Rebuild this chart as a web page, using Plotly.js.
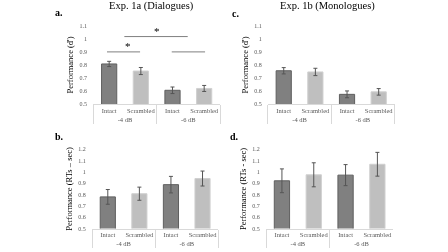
<!DOCTYPE html>
<html><head><meta charset="utf-8">
<script src="https://cdn.plot.ly/plotly-3.0.1.min.js"></script>
<style>html,body{margin:0;padding:0;background:#fff;}#chart{width:448px;height:252px;will-change:transform;}</style>
</head><body><div id="chart"></div>
<script>
// ---- data ----
var groups = ["-4 dB", "-4 dB", "-6 dB", "-6 dB"];
var conditions = ["Intact", "Scrambled", "Intact", "Scrambled"];
// Exp. 1a (Dialogues)
var dprimeDialogues = [0.808, 0.754, 0.607, 0.621];
var dprimeDialoguesErr = [0.020, 0.027, 0.025, 0.023];
var rtDialogues = [0.780, 0.808, 0.888, 0.942];
var rtDialoguesErr = [0.065, 0.058, 0.073, 0.066];
// Exp. 1b (Monologues)
var dprimeMonologues = [0.756, 0.747, 0.576, 0.595];
var dprimeMonologuesErr = [0.024, 0.028, 0.026, 0.025];
var rtMonologues = [0.922, 0.975, 0.972, 1.068];
var rtMonologuesErr = [0.105, 0.106, 0.093, 0.105];
// significance brackets in panel a: [fromFrac, toFrac, level]
var sigLines = [[0.108, 0.369, 0.90], [0.245, 0.745, 1.017], [0.619, 0.882, 0.90]];
var sigStars = [[0.237, 0.945], [0.505, 1.063]];

var intactColor = "#808080", scrambledColor = "#bfbfbf";
var barColors = conditions.map(function(c){ return c === "Intact" ? intactColor : scrambledColor; });
var barLines = conditions.map(function(c){ return c === "Intact" ? "#5f5f5f" : "#d0d0d0"; });
var serif = "Liberation Serif, Times New Roman, serif";

function barTrace(vals, errs, xa, ya) {
  return {
    type: "bar", x: [groups, conditions], y: vals, xaxis: xa, yaxis: ya,
    width: 0.48,
    marker: {color: barColors, line: {color: barLines, width: 1}},
    error_y: {type: "data", array: errs, visible: true, color: "#555555", thickness: 1, width: 2},
    showlegend: false, hoverinfo: "none"
  };
}

var data = [
  barTrace(dprimeDialogues, dprimeDialoguesErr, "x", "y"),
  barTrace(dprimeMonologues, dprimeMonologuesErr, "x2", "y2"),
  barTrace(rtDialogues, rtDialoguesErr, "x3", "y3"),
  barTrace(rtMonologues, rtMonologuesErr, "x4", "y4")
];

function xAxis(domain, anchor) {
  return {
    type: "multicategory", domain: domain, anchor: anchor,
    showline: true, linecolor: "#d9d9d9", linewidth: 1,
    showdividers: true, dividercolor: "#d9d9d9", dividerwidth: 1,
    ticks: "", tickangle: 0, tickfont: {family: serif, size: 6.5, color: "#595959"},
    showgrid: false, zeroline: false, fixedrange: true
  };
}
function yAxis(domain, anchor, range, dtick, title) {
  return {
    domain: domain, anchor: anchor, range: range, dtick: dtick,
    showgrid: false, zeroline: false, showline: false,
    ticks: "outside", ticklen: 4, tickcolor: "rgba(0,0,0,0)",
    tickfont: {family: serif, size: 6, color: "#595959"},
    title: {text: title, font: {family: serif, size: 8.5, color: "#000"}, standoff: 4},
    fixedrange: true
  };
}

var shapes = sigLines.map(function(s){
  return {type: "line", xref: "x domain", yref: "y", x0: s[0], x1: s[1], y0: s[2], y1: s[2],
          line: {color: "#7f7f7f", width: 1}};
});
var annotations = sigStars.map(function(s){
  return {xref: "x domain", yref: "y", x: s[0], y: s[1], text: "*", showarrow: false,
          font: {family: serif, size: 11, color: "#000"}};
});
var panelLabels = [["a.", 0.118, 0.95], ["c.", 0.513, 0.945], ["b.", 0.118, 0.46], ["d.", 0.51, 0.46]];
panelLabels.forEach(function(p){
  annotations.push({xref: "paper", yref: "paper", x: p[1], y: p[2], text: "<b>" + p[0] + "</b>",
    showarrow: false, xanchor: "left", yanchor: "middle",
    font: {family: serif, size: 10, color: "#000"}});
});
annotations.push({xref: "paper", yref: "paper", x: 0.338, y: 0.976, text: "Exp. 1a (Dialogues)",
  showarrow: false, xanchor: "center", yanchor: "middle", font: {family: serif, size: 10.5, color: "#000"}});
annotations.push({xref: "paper", yref: "paper", x: 0.732, y: 0.976, text: "Exp. 1b (Monologues)",
  showarrow: false, xanchor: "center", yanchor: "middle", font: {family: serif, size: 10.5, color: "#000"}});

var layout = {
  width: 448, height: 252, margin: {l: 0, r: 0, t: 0, b: 0},
  paper_bgcolor: "#fff", plot_bgcolor: "#fff",
  xaxis: xAxis([0.2083, 0.4911], "y"),
  xaxis2: xAxis([0.598, 0.8806], "y2"),
  xaxis3: xAxis([0.2054, 0.4873], "y3"),
  xaxis4: xAxis([0.5938, 0.8779], "y4"),
  yaxis: yAxis([0.5861, 0.898], "x", [0.5, 1.1], 0.1, "Performance (d')"),
  yaxis2: yAxis([0.5861, 0.898], "x2", [0.5, 1.1], 0.1, "Performance (d')"),
  yaxis3: yAxis([0.0929, 0.4075], "x3", [0.5, 1.2], 0.1, "Performance (RTs \u2013 sec)"),
  yaxis4: yAxis([0.0929, 0.4075], "x4", [0.5, 1.2], 0.1, "Performance (RTs - sec)"),
  shapes: shapes, annotations: annotations, bargap: 0.5
};
Plotly.newPlot("chart", data, layout, {staticPlot: true, displayModeBar: false});
</script></body></html>
